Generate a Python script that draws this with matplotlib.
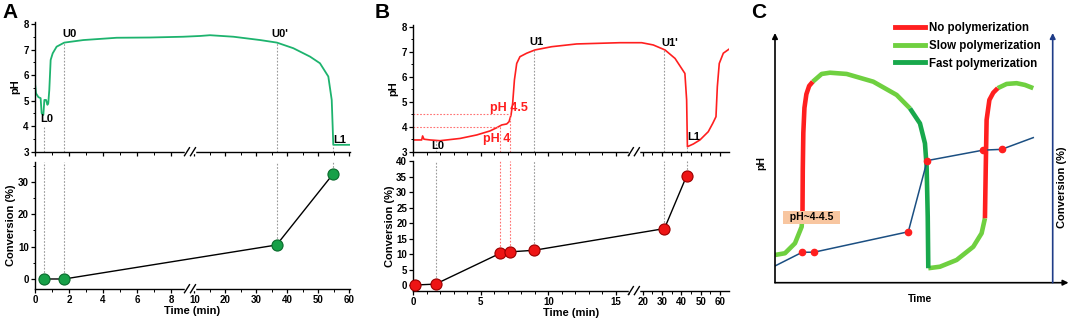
import numpy as np
import matplotlib
matplotlib.use('Agg')
import matplotlib.pyplot as plt
from matplotlib.lines import Line2D

plt.rcParams['font.family'] = ['Liberation Sans', 'DejaVu Sans']
plt.rcParams['font.weight'] = 'bold'
plt.rcParams['axes.labelweight'] = 'bold'

W, H = 1072, 322

# Panell A: pH i conversió
temps_ph_a = [0, 0.06, 0.2, 0.33, 0.39, 0.49, 0.55, 0.65, 0.73, 0.78, 0.84, 0.92, 1.04,
              1.27, 1.72, 2.84, 4.8, 6.76, 8.7, 11.8, 15, 22.6, 31.2, 36.6, 41.9, 47.3,
              50.5, 53.2, 54.3, 54.6, 54.8, 60.2]
ph_a = [5.69, 5.29, 5.14, 5.1, 4.51, 4.44, 5.03, 5.03, 4.84, 4.9, 5.42, 6.6, 6.86,
        7.12, 7.28, 7.38, 7.47, 7.48, 7.51, 7.54, 7.57, 7.51, 7.38, 7.28, 7.06, 6.73,
        6.47, 5.95, 5.03, 4.0, 3.27, 3.27]
temps_conv_a = [0.5, 1.72, 36.5, 54.8]
conv_a = [0.0, 0.0, 10.5, 32.5]
etiquetes_a = ['L0', 'U0', "U0'", 'L1']
temps_etiq_a = [0.67, 2.0, 37.4, 57.0]
ph_etiq_a = [4.27, 7.62, 7.62, 3.45]
temps_guia_a = [0.5, 1.72, 36.6, 54.8]
ph_guia_a = [4.02, 7.28, 7.28, 3.27]

# Panell B: pH i conversió
temps_ph_b = [0, 0.62, 0.69, 0.79, 1.24, 1.98, 3.46, 4.7, 5.68, 6.18, 6.55, 6.92, 7.09,
              7.24, 7.36, 7.49, 7.66, 7.9, 8.4, 9.01, 10.25, 12.1, 15.3, 19.4, 25.4,
              31.5, 36.7, 40.1, 41.8, 42.7, 43.1, 46.2, 49.6, 53.9, 56.2, 57.9, 58.6,
              59.6, 61.7, 64.8]
ph_b = [3.47, 3.47, 3.63, 3.5, 3.47, 3.44, 3.53, 3.67, 3.83, 3.96, 4.07, 4.11, 4.2,
        4.47, 4.94, 5.87, 6.53, 6.8, 6.94, 7.07, 7.2, 7.31, 7.36, 7.36, 7.27,
        7.07, 6.73, 6.33, 6.13, 5.07, 3.2, 3.31, 3.47, 3.8, 4.13, 4.4, 5.6,
        6.53, 6.94, 7.11]
temps_conv_b = [0.15, 1.65, 6.42, 7.19, 8.94, 31.2, 42.7]
conv_b = [0.0, 0.3, 10.2, 10.7, 11.2, 18.2, 35.2]
etiquetes_b = ['L0', 'U1', "U1'", 'L1']
temps_etiq_b = [1.78, 9.1, 33.7, 46.1]
ph_etiq_b = [3.22, 7.38, 7.34, 3.6]
temps_guia_b = [1.65, 8.94, 31.2, 42.7]
ph_guia_b = [3.45, 7.06, 7.06, 3.2]
temps_llindar_b = [6.42, 7.19]
ph_llindar_b = [4.0, 4.5]

# Panell C: esquema (unitats arbitràries)
c_lenta1 = ([0, 3.6, 7.2, 9.6, 9.9], [11.1, 11.8, 15.8, 22.4, 27.8])
c_sense1 = ([9.9, 10.0, 10.2, 10.6, 11.3, 12.3, 13.6], [27.8, 45, 60, 70, 75.5, 78.8, 80.5])
c_lenta2 = ([13.6, 16.8, 19.8, 25.8, 35.4, 43.8, 48.6], [80.5, 83.6, 84.1, 83.6, 80.5, 75.2, 69.8])
c_rapida = ([48.6, 52.2, 54.0, 54.6, 55.0, 55.2], [69.8, 63.8, 55.8, 46.5, 26.4, 5.8])
c_lenta3 = ([55.2, 59.4, 65.4, 71.4, 74.4, 75.6], [5.8, 6.4, 9.1, 14.4, 19.8, 25.8])
c_sense2 = ([75.6, 75.9, 76.2, 77.2, 78.6, 80.2], [25.8, 46.5, 65.2, 73.2, 76.1, 77.9])
c_lenta4 = ([80.2, 83.4, 87.0, 90.0, 93.0], [77.9, 79.6, 79.9, 79.2, 77.9])
c_conv_t = [0, 9.8, 14.0, 48.0, 54.8, 75.0, 81.6, 93.0]
c_conv_v = [6.7, 12.2, 12.2, 20.4, 48.9, 53.1, 53.4, 58.1]

VERD_A = '#1db36e'
VERMELL = '#ff1f1f'
VERD_CLAR = '#6fd040'
VERD_FOSC = '#18a84c'
GRIS = '#9a9a9a'
MIDA_TICK = 7
MIDA_EIX = 8


def escala_trencada(tall, factor):
    def endavant(t):
        t = np.asarray(t, float)
        return np.where(t <= tall, t, tall + (t - tall) * factor)

    def enrere(u):
        u = np.asarray(u, float)
        return np.where(u <= tall, u, tall + (u - tall) / factor)
    return endavant, enrere


def eixos_px(fig, esq, dalt, dreta, baix):
    return fig.add_axes([esq / W, 1 - baix / H, (dreta - esq) / W, (baix - dalt) / H])


def estil(ax):
    for s in ('top', 'right'):
        ax.spines[s].set_visible(False)
    for s in ('left', 'bottom'):
        ax.spines[s].set_linewidth(1.0)
    ax.tick_params(which='major', direction='out', length=3, width=0.9,
                   labelsize=MIDA_TICK, pad=1.5)
    ax.tick_params(which='minor', direction='out', length=1.8, width=0.7)


def trenca_eix(ax, xfrac):
    pos = ax.get_position()
    px_x = 1 / (pos.width * W)
    px_y = 1 / (pos.height * H)
    ax.plot([xfrac - 4 * px_x, xfrac + 4 * px_x], [0, 0], color='white', lw=2.5,
            transform=ax.transAxes, clip_on=False, zorder=5)
    for off in (-3, 3):
        x0 = xfrac + off * px_x
        ax.plot([x0 - 2.5 * px_x, x0 + 2.5 * px_x], [-4 * px_y, 4 * px_y], color='black', lw=1,
                transform=ax.transAxes, clip_on=False, zorder=6)


def eix_x(ax, escala, xlim, majors, menors, etiquetes):
    ax.set_xscale('function', functions=escala)
    ax.set_xlim(*xlim)
    ax.set_xticks(majors, [str(m) for m in majors] if etiquetes else [''] * len(majors))
    ax.set_xticks(menors, minor=True)


fig = plt.figure(figsize=(W / 100, H / 100), dpi=100)

# ---------- Panell A ----------
esc_a = escala_trencada(9.23, 0.182)
maj_a = [0, 2, 4, 6, 8, 10, 20, 30, 40, 50, 60]
men_a = [1, 3, 5, 7, 15, 25, 35, 45, 55]

ax = eixos_px(fig, 35, 21.7, 350, 151.7)
estil(ax)
eix_x(ax, esc_a, (0, 60.2), maj_a, men_a, False)
ax.set_ylim(3, 8.1)
ax.set_yticks([3, 4, 5, 6, 7, 8])
ax.set_yticks([3.5, 4.5, 5.5, 6.5, 7.5], minor=True)
ax.plot(temps_ph_a, ph_a, color=VERD_A, lw=1.3)
ax.vlines(temps_guia_a, 3, ph_guia_a, colors=GRIS, linestyles=(0, (1.5, 1.5)), lw=0.8)
for txt, t, p in zip(etiquetes_a, temps_etiq_a, ph_etiq_a):
    ax.text(t, p, txt, fontsize=8, ha='center', va='center')
ax.set_ylabel('pH', fontsize=MIDA_EIX, labelpad=2)
trenca_eix(ax, 0.492)

ax = eixos_px(fig, 35, 162.4, 350, 288.7)
estil(ax)
eix_x(ax, esc_a, (0, 60.2), maj_a, men_a, True)
ax.set_ylim(-3, 36)
ax.set_yticks([0, 10, 20, 30])
ax.set_yticks([5, 15, 25, 35], minor=True)
ax.vlines(temps_conv_a, conv_a, 36, colors=GRIS, linestyles=(0, (1.5, 1.5)), lw=0.8)
ax.plot(temps_conv_a, conv_a, color='black', lw=1, marker='o', markersize=8,
        markerfacecolor='#17a048', markeredgecolor='#0a6a2c', markeredgewidth=0.8,
        clip_on=False, zorder=4)
ax.set_xlabel('Time (min)', fontsize=MIDA_EIX, labelpad=1)
ax.set_ylabel('Conversion (%)', fontsize=MIDA_EIX, labelpad=1)
trenca_eix(ax, 0.492)

# ---------- Panell B ----------
esc_b = escala_trencada(16.5, 0.143)
maj_b = [0, 5, 10, 15, 20, 30, 40, 50, 60]
men_b = [1, 2, 3, 4, 6, 7, 8, 9, 11, 12, 13, 14, 16, 25, 35, 45, 55]

ax = eixos_px(fig, 413.3, 24.7, 729.3, 151.7)
estil(ax)
eix_x(ax, esc_b, (0, 64.8), maj_b, men_b, False)
ax.set_ylim(3, 8.08)
ax.set_yticks([3, 4, 5, 6, 7, 8])
ax.set_yticks([3.5, 4.5, 5.5, 6.5, 7.5], minor=True)
ax.plot(temps_ph_b, ph_b, color=VERMELL, lw=1.2)
ax.vlines(temps_guia_b, 3, ph_guia_b, colors=GRIS, linestyles=(0, (1.5, 1.5)), lw=0.8)
ax.vlines(temps_llindar_b, 3, ph_llindar_b, colors='#ff7070', linestyles=(0, (1.5, 1.5)), lw=0.8)
ax.hlines(ph_llindar_b, 0, temps_llindar_b, colors='#ff7070', linestyles=(0, (1.5, 1.5)), lw=0.8)
for txt, t, p in zip(etiquetes_b, temps_etiq_b, ph_etiq_b):
    ax.text(t, p, txt, fontsize=8, ha='center', va='center')
ax.text(7.1, 4.76, 'pH 4.5', fontsize=9, color=VERMELL, ha='center', va='center')
ax.text(6.2, 3.5, 'pH 4', fontsize=9, color=VERMELL, ha='center', va='center')
ax.set_ylabel('pH', fontsize=MIDA_EIX, labelpad=2)
trenca_eix(ax, 0.698)

ax = eixos_px(fig, 413.3, 161, 729.3, 290.6)
estil(ax)
eix_x(ax, esc_b, (0, 64.8), maj_b, men_b, True)
ax.set_ylim(-1.8, 40)
ax.set_yticks(list(range(0, 41, 5)))
ax.vlines([1.65, 8.94, 31.2, 42.7], [0.3, 11.2, 18.2, 35.2], 40, colors=GRIS,
          linestyles=(0, (1.5, 1.5)), lw=0.8)
ax.vlines(temps_llindar_b, [10.2, 10.7], 40, colors='#ff7070', linestyles=(0, (1.5, 1.5)), lw=0.8)
ax.plot(temps_conv_b, conv_b, color='black', lw=1, marker='o', markersize=8,
        markerfacecolor='#ee1515', markeredgecolor='#9a0000', markeredgewidth=0.8,
        clip_on=False, zorder=4)
ax.set_xlabel('Time (min)', fontsize=MIDA_EIX, labelpad=1)
ax.set_ylabel('Conversion (%)', fontsize=MIDA_EIX, labelpad=1)
trenca_eix(ax, 0.698)

# ---------- Panell C ----------
ax = eixos_px(fig, 775, 33, 1052.7, 282.7)
ax.set_xlim(0, 100)
ax.set_ylim(0, 100)
ax.axis('off')
gruix = 3.3
for seg in (c_lenta1, c_lenta2, c_lenta3, c_lenta4):
    ax.plot(*seg, color=VERD_CLAR, lw=gruix, solid_capstyle='butt', zorder=2)
for seg in (c_sense1, c_sense2):
    ax.plot(*seg, color=VERMELL, lw=gruix, solid_capstyle='butt', zorder=2)
ax.plot(*c_rapida, color=VERD_FOSC, lw=gruix, solid_capstyle='butt', zorder=2)
ax.plot(c_conv_t, c_conv_v, color='#1b4f82', lw=1.1, zorder=3)
ax.plot(c_conv_t[1:-1], c_conv_v[1:-1], 'o', color=VERMELL, markersize=4.5, zorder=4)
ax.text(13.2, 26.2, '  pH~4-4.5  ', fontsize=7.5, ha='center', va='center', zorder=5,
        bbox=dict(boxstyle='square,pad=0.12', facecolor='#f8c6a0', edgecolor='none'))

fletxa = dict(arrowstyle='-|>', lw=1.2, color='black', mutation_scale=8, shrinkA=0, shrinkB=0)
ax.annotate('', xy=(0, 1.0), xytext=(0, 0), xycoords='axes fraction', arrowprops=fletxa)
ax.annotate('', xy=(1.057, 0), xytext=(0, 0), xycoords='axes fraction', arrowprops=fletxa)
ax.annotate('', xy=(1, 1.0), xytext=(1, 0), xycoords='axes fraction',
            arrowprops=dict(fletxa, color='#1f3c88'))
ax.text(-0.048, 0.479, 'pH', transform=ax.transAxes, fontsize=7.5, rotation=90,
        ha='center', va='center')
ax.text(1.032, 0.383, 'Conversion (%)', transform=ax.transAxes, fontsize=8, rotation=90,
        ha='center', va='center')
ax.text(0.522, -0.066, 'Time', transform=ax.transAxes, fontsize=7.5, ha='center', va='center')

manejadors = [Line2D([], [], color=VERMELL, lw=3.5),
              Line2D([], [], color=VERD_CLAR, lw=3.5),
              Line2D([], [], color=VERD_FOSC, lw=3.5)]
ax.legend(manejadors, ['No polymerization', 'Slow polymerization', 'Fast polymerization'],
          loc='upper left', bbox_to_anchor=(895 / W, 1 - 22 / H), bbox_transform=fig.transFigure,
          frameon=False, fontsize=8.3, handlelength=2.6, handletextpad=0.35,
          labelspacing=0.5, borderpad=0, borderaxespad=0)

# lletres dels panells
for lletra, x in (('A', 10.5), ('B', 382.5), ('C', 758.5)):
    fig.text(x / W, 1 - 12 / H, lletra, fontsize=15, ha='center', va='center')

fig.savefig('out.png', dpi=100)
